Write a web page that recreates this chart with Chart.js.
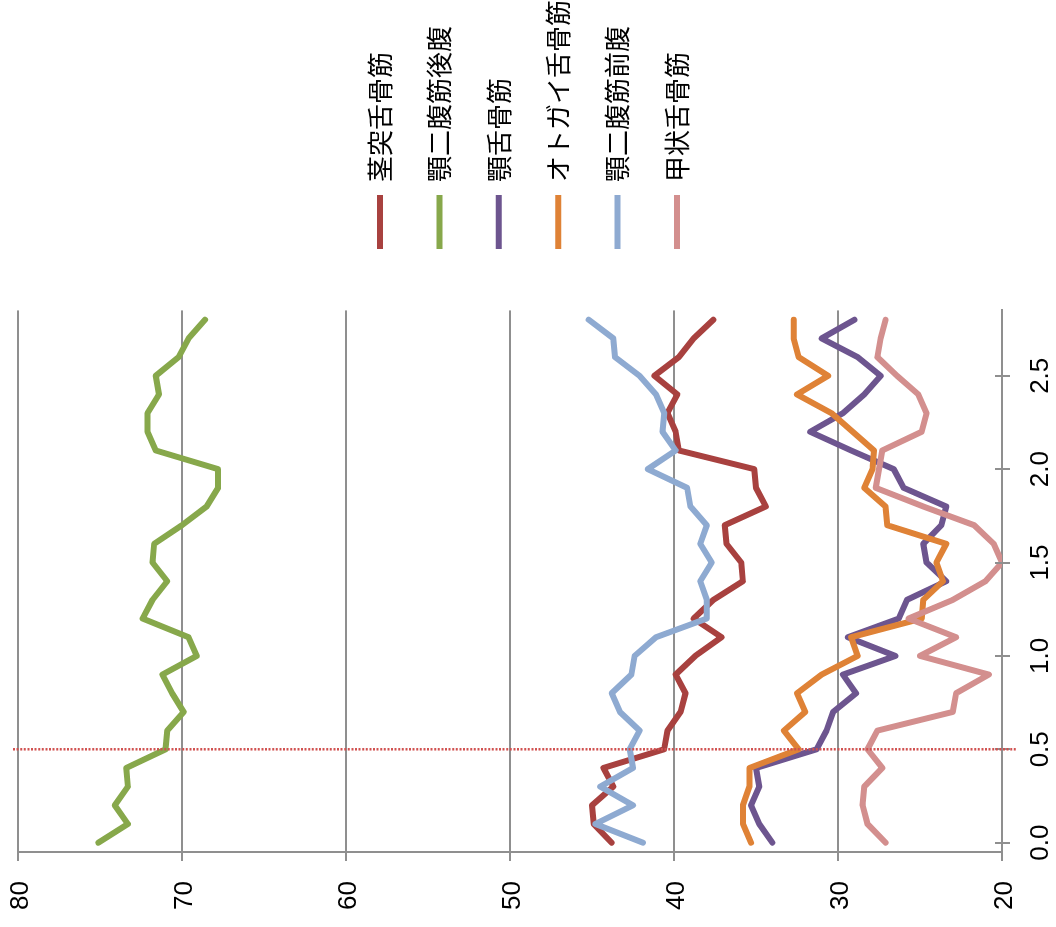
<!DOCTYPE html>
<html>
<head>
<meta charset="utf-8">
<script src="https://cdn.jsdelivr.net/npm/chart.js@4.4.1/dist/chart.umd.min.js"></script>
<style>
  html, body { margin: 0; padding: 0; background: #fff; overflow: hidden; }
  /* chart is laid out upright, then turned a quarter turn counter-clockwise */
  #wrap {
    position: absolute; left: 0; top: 0;
    width: 927px; height: 1056px;
    transform-origin: 0 0;
    transform: translate(0, 927px) rotate(-90deg);
  }
</style>
</head>
<body>
<div id="wrap"><canvas id="muscleChart" width="927" height="1056"></canvas></div>
<script>
const labels = ['0.0', '0.1', '0.2', '0.3', '0.4', '0.5', '0.6', '0.7', '0.8', '0.9',
                '1.0', '1.1', '1.2', '1.3', '1.4', '1.5', '1.6', '1.7', '1.8', '1.9',
                '2.0', '2.1', '2.2', '2.3', '2.4', '2.5', '2.6', '2.7', '2.8'];

const stylohyoid = [43.8, 44.9, 45.0, 43.7, 44.3, 40.6, 40.4, 39.6, 39.3, 39.9,
                    38.7, 37.1, 38.8, 37.6, 35.8, 35.9, 36.8, 36.9, 34.4, 35.0,
                    35.1, 39.7, 39.9, 40.4, 39.8, 41.2, 39.7, 38.8, 37.6];
const digastricPost = [75.1, 73.3, 74.1, 73.3, 73.4, 71.0, 70.9, 69.9, 70.6, 71.2,
                       69.1, 69.6, 72.4, 71.8, 70.9, 71.8, 71.7, 70.0, 68.5, 67.8,
                       67.8, 71.6, 72.1, 72.1, 71.4, 71.6, 70.2, 69.6, 68.6];
const mylohyoid = [34.0, 34.8, 35.3, 34.8, 35.0, 31.3, 30.7, 30.3, 28.9, 29.7,
                   26.5, 29.4, 26.3, 25.8, 23.4, 24.6, 24.8, 23.7, 23.4, 26.0,
                   26.6, 29.2, 31.7, 29.7, 28.4, 27.4, 28.8, 31.0, 29.0];
const geniohyoid = [35.3, 35.8, 35.8, 35.4, 35.4, 32.4, 33.3, 32.0, 32.5, 31.0,
                    28.8, 29.2, 24.9, 24.8, 23.6, 24.0, 23.4, 27.0, 27.1, 28.4,
                    27.9, 27.8, 29.1, 30.4, 32.5, 30.6, 32.4, 32.7, 32.7];
const digastricAnt = [41.9, 44.8, 42.5, 44.5, 42.5, 42.7, 42.1, 43.3, 43.8, 42.6,
                      42.4, 41.1, 38.0, 38.0, 38.4, 37.7, 38.4, 38.0, 39.0, 39.2,
                      41.6, 39.9, 40.7, 40.6, 41.1, 42.1, 43.6, 43.7, 45.2];
const thyrohyoid = [27.1, 28.2, 28.5, 28.4, 27.3, 28.2, 27.6, 23.0, 22.8, 20.8,
                    25.0, 22.8, 25.7, 23.0, 21.0, 20.0, 20.5, 21.7, 24.8, 27.7,
                    27.5, 27.3, 24.9, 24.6, 25.1, 26.4, 27.6, 27.4, 27.1];

const yTicks = [20, 30, 40, 50, 60, 70, 80];
const markerAt = '0.5';

const series = [
  { label: '茎突舌骨筋', data: stylohyoid, color: '#a8413f' },
  { label: '顎二腹筋後腹', data: digastricPost, color: '#87a84b' },
  { label: '顎舌骨筋', data: mylohyoid, color: '#6d558f' },
  { label: 'オトガイ舌骨筋', data: geniohyoid, color: '#df8236' },
  { label: '顎二腹筋前腹', data: digastricAnt, color: '#8eaad1' },
  { label: '甲状舌骨筋', data: thyrohyoid, color: '#d38f8e' }
];

const gray = '#8f8f8f';

// dotted guide at 0.5 and the inner half of the crossing tick marks
const extras = {
  id: 'extras',
  afterDatasetsDraw(chart) {
    const { ctx, chartArea, scales: { x } } = chart;
    ctx.save();
    ctx.strokeStyle = gray;
    ctx.lineWidth = 2;
    x.ticks.forEach((t, i) => {
      const px = Math.round(x.getPixelForTick(i));
      ctx.beginPath();
      ctx.moveTo(px, chartArea.bottom - 7);
      ctx.lineTo(px, chartArea.bottom);
      ctx.stroke();
    });
    const mx = x.getPixelForValue(labels.indexOf(markerAt));
    ctx.strokeStyle = '#d0504f';
    ctx.lineWidth = 2.5;
    ctx.setLineDash([2, 1.6]);
    ctx.beginPath();
    ctx.moveTo(mx, chartArea.top - 5);
    ctx.lineTo(mx, chartArea.bottom + 15);
    ctx.stroke();
    ctx.restore();
  }
};

Chart.defaults.font.family = '"Liberation Sans", Arial, sans-serif';
Chart.defaults.color = '#000';

new Chart(document.getElementById('muscleChart'), {
  type: 'line',
  data: {
    labels: labels,
    datasets: series.map((s, i) => ({
      label: s.label,
      data: s.data,
      borderColor: s.color,
      backgroundColor: s.color,
      borderWidth: 6,
      borderCapStyle: 'round',
      borderJoinStyle: 'round',
      pointRadius: 0,
      tension: 0,
      fill: false,
      order: 10 - i
    }))
  },
  plugins: [extras],
  options: {
    responsive: false,
    animation: false,
    layout: { padding: { top: 1, left: 0, right: 0, bottom: 0 } },
    plugins: {
      tooltip: { enabled: false },
      legend: {
        position: 'right',
        align: 'center',
        maxWidth: 282.4,
        labels: {
          usePointStyle: true,
          pointStyle: 'line',
          pointStyleWidth: 54,
          padding: 33.4,
          color: '#000',
          font: { family: '"Noto Sans CJK JP", sans-serif', size: 26 },
          sort: (a, b) => a.datasetIndex - b.datasetIndex
        }
      }
    },
    scales: {
      x: {
        type: 'category',
        offset: true,
        grid: {
          offset: false,
          drawOnChartArea: false,
          color: gray,
          lineWidth: 2,
          tickLength: 8
        },
        border: { color: gray, width: 2 },
        ticks: {
          autoSkip: false,
          maxRotation: 0,
          padding: 15,
          font: { size: 26 },
          callback: (v, i) => (i % 5 === 0 ? labels[i] : null)
        },
        afterFit: (s) => { s.height = 54; }
      },
      y: {
        min: 20,
        max: 80,
        grid: { color: gray, lineWidth: 2, tickLength: 9 },
        border: { color: gray, width: 2 },
        afterBuildTicks: (s) => { s.ticks = yTicks.map(v => ({ value: v })); },
        ticks: { padding: 20, labelOffset: 3, font: { size: 26 } },
        afterFit: (s) => { s.width = 75; s.paddingTop = 18; s.paddingBottom = 0; }
      },
      gap: {
        type: 'linear',
        position: 'right',
        grid: { display: false },
        border: { display: false },
        ticks: { display: false },
        afterFit: (s) => { s.width = 28; }
      }
    }
  }
});
</script>
</body>
</html>
